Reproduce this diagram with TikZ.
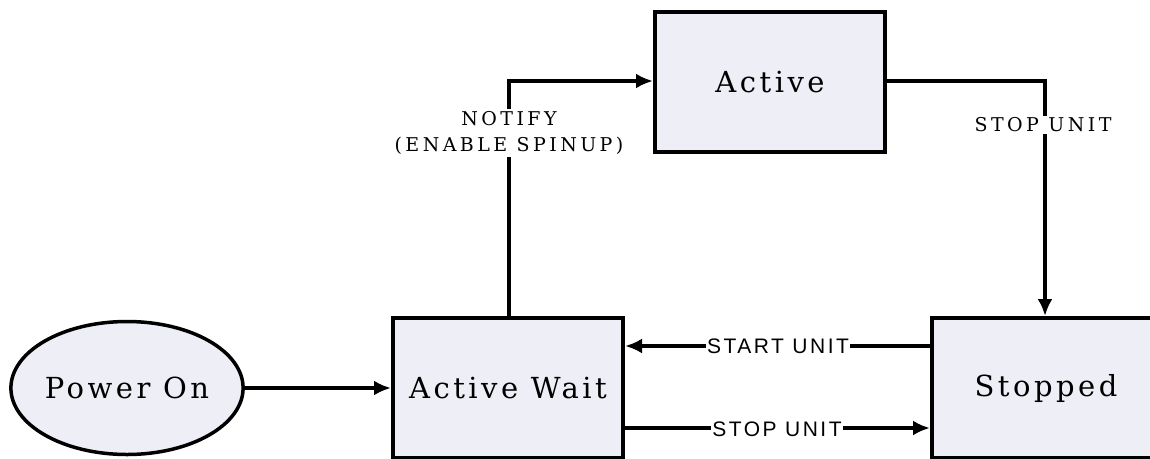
\documentclass[tikz,border=0pt]{standalone}
\usepackage{fontspec}
\usetikzlibrary{arrows.meta,positioning,shapes.geometric}
\newfontfamily\statefont[LetterSpace=12]{DejaVu Serif}
\newfontfamily\lblserif[LetterSpace=18]{DejaVu Serif}
\newfontfamily\lblsans[LetterSpace=12]{Liberation Sans}
\definecolor{statefill}{RGB}{238,238,246}
\tikzset{
  statebox/.style={draw=black, line width=4pt, fill=statefill, rectangle,
    minimum width=230pt, minimum height=140pt, inner sep=0pt,
    font=\statefont\fontsize{29}{34}\selectfont},
  stateell/.style={draw=black, line width=3.5pt, fill=statefill, ellipse,
    minimum width=229pt, minimum height=133pt, inner sep=0pt,
    font=\statefont\fontsize{29}{34}\selectfont},
  conn/.style={line width=3.5pt, -{Latex[length=17pt,width=15pt]}},
  seriflbl/.style={fill=white, inner sep=2pt, align=center,
    font=\lblserif\fontsize{19}{26}\selectfont},
  sanslbl/.style={fill=white, inner sep=1pt,
    font=\lblsans\fontsize{21}{24}\selectfont},
}
\begin{document}
\begin{tikzpicture}[x=1pt,y=-1pt]
\useasboundingbox (0,0) rectangle (1150,458);
\clip (0,0) rectangle (1150,458);
\fill[white] (0,0) rectangle (1150,458);
\node[stateell] (power) at (127,388) {Power On};
\node[statebox] (wait) at (508,388) {Active Wait};
\node[statebox] (active) at (770,82) {Active};
\node[statebox, minimum width=228pt] (stopped) at (1046,388) {Stopped};
\coordinate (c1) at (509,81);
\coordinate (c2) at (1045,81);
\draw[conn] (power.east) -- (wait.west);
\draw[conn] (wait.north -| c1) -- (c1) -- (active.west |- c1);
\draw[conn] (active.east |- c2) -- (c2) -- (stopped.north -| c2);
\draw[conn] (stopped.west |- 0,346) -- (wait.east |- 0,346);
\draw[conn] (wait.east |- 0,428) -- (stopped.west |- 0,428);
\node[seriflbl] (lnotify) at (509,133) {NOTIFY\\(ENABLE SPINUP)};
\node[seriflbl] (lstop1) at (1043,125) {STOP UNIT};
\node[sanslbl] (lstart) at (778,346) {START UNIT};
\node[sanslbl] (lstop2) at (777,429) {STOP UNIT};
\end{tikzpicture}
\end{document}
